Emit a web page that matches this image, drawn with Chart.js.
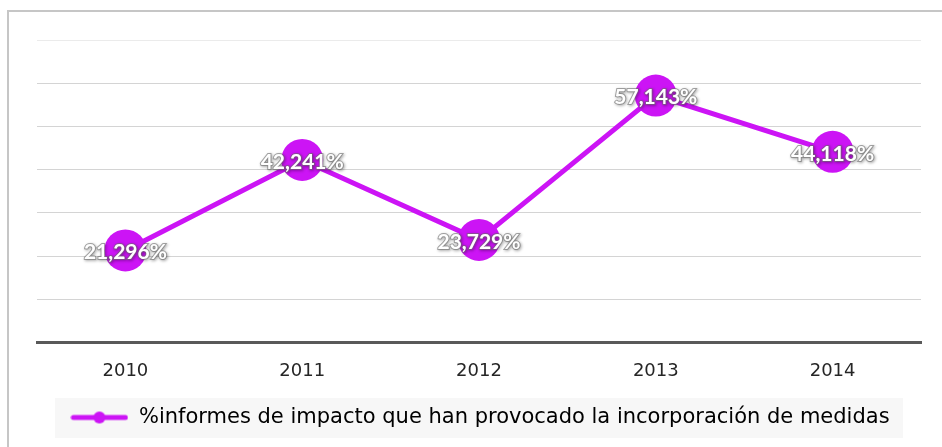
<!DOCTYPE html>
<html>
<head>
<meta charset="utf-8">
<script src="https://cdn.jsdelivr.net/npm/chart.js@4/dist/chart.umd.min.js"></script>
<style>
  html, body { margin: 0; padding: 0; background: #fff; }
  #wrap { position: relative; width: 942px; height: 447px; overflow: hidden; }
  #frame { position: absolute; left: 7px; top: 10px; width: 960px; height: 460px; border: 2px solid #c6c6c6; box-sizing: border-box; }
  #chart { position: absolute; left: 0; top: 0; }
</style>
</head>
<body>
<div id="wrap">
  <div id="frame"></div>
  <canvas id="chart" width="942" height="447"></canvas>
</div>
<script>
const years = ["2010", "2011", "2012", "2013", "2014"];
const impactPct = [21.296, 42.241, 23.729, 57.143, 44.118];
const seriesName = "%informes de impacto que han provocado la incorporación de medidas";
const lineColor = "#cc14f5";

// legend marker: line with a dot in the middle
const marker = document.createElement("canvas");
marker.width = 58;
marker.height = 14;
const mctx = marker.getContext("2d");
mctx.strokeStyle = lineColor;
mctx.lineWidth = 5;
mctx.lineCap = "round";
mctx.beginPath();
mctx.moveTo(3, 7);
mctx.lineTo(55, 7);
mctx.stroke();
mctx.fillStyle = lineColor;
mctx.beginPath();
mctx.arc(29, 7, 6, 0, Math.PI * 2);
mctx.fill();

const legendBg = {
  id: "legendBg",
  beforeDraw(chart) {
    const ctx = chart.ctx;
    const lg = chart.legend;
    const ca = chart.chartArea;
    ctx.save();
    ctx.fillStyle = "#f7f7f7";
    ctx.fillRect(ca.left + 18, lg.top + 5, ca.right - ca.left - 36, 40);
    ctx.restore();
  }
};

const pointLabels = {
  id: "pointLabels",
  afterDatasetsDraw(chart) {
    const ctx = chart.ctx;
    const meta = chart.getDatasetMeta(0);
    ctx.save();
    ctx.font = "bold 21px Lato";
    ctx.textAlign = "center";
    ctx.textBaseline = "middle";
    meta.data.forEach((pt, i) => {
      const txt = impactPct[i].toFixed(3).replace(".", ",") + "%";
      ctx.shadowColor = "rgba(0,0,0,0.55)";
      ctx.shadowBlur = 3;
      ctx.shadowOffsetX = 1;
      ctx.shadowOffsetY = 1;
      ctx.lineWidth = 2;
      ctx.strokeStyle = "rgba(110,110,110,0.6)";
      ctx.strokeText(txt, pt.x, pt.y + 2);
      ctx.shadowColor = "transparent";
      ctx.fillStyle = "#ffffff";
      ctx.fillText(txt, pt.x, pt.y + 2);
    });
    ctx.restore();
  }
};

new Chart(document.getElementById("chart").getContext("2d"), {
  type: "line",
  data: {
    labels: years,
    datasets: [{
      label: seriesName,
      data: impactPct,
      borderColor: lineColor,
      backgroundColor: lineColor,
      borderWidth: 5,
      pointRadius: 21,
      pointHoverRadius: 21,
      pointBorderWidth: 0,
      pointStyle: "circle",
      tension: 0
    }]
  },
  options: {
    responsive: false,
    animation: false,
    devicePixelRatio: 1,
    layout: { padding: { left: 37, right: 19, top: 40, bottom: 9 } },
    scales: {
      x: {
        offset: true,
        grid: { display: false, offset: true },
        border: { color: "#595959", width: 3 },
        ticks: { color: "#262626", font: { family: "DejaVu Sans", size: 18 }, padding: 10 },
        afterFit(scale) { scale.height += 1; }
      },
      y: {
        min: 0,
        max: 70,
        ticks: { display: false, stepSize: 10 },
        grid: { color: (c) => c.tick && c.tick.value === 70 ? "#ebebeb" : "#d4d4d4", lineWidth: 1, drawTicks: false },
        border: { display: false }
      }
    },
    plugins: {
      legend: {
        position: "bottom",
        labels: {
          color: "#1a1a1a",
          font: { family: "DejaVu Sans", size: 21 },
          usePointStyle: true,
          pointStyleWidth: 58,
          padding: 14,
          generateLabels: (chart) => [{
            text: seriesName,
            pointStyle: marker,
            fillStyle: lineColor,
            strokeStyle: lineColor,
            lineWidth: 0,
            datasetIndex: 0
          }]
        }
      },
      tooltip: { enabled: false }
    }
  },
  plugins: [legendBg, pointLabels]
});
</script>
</body>
</html>
